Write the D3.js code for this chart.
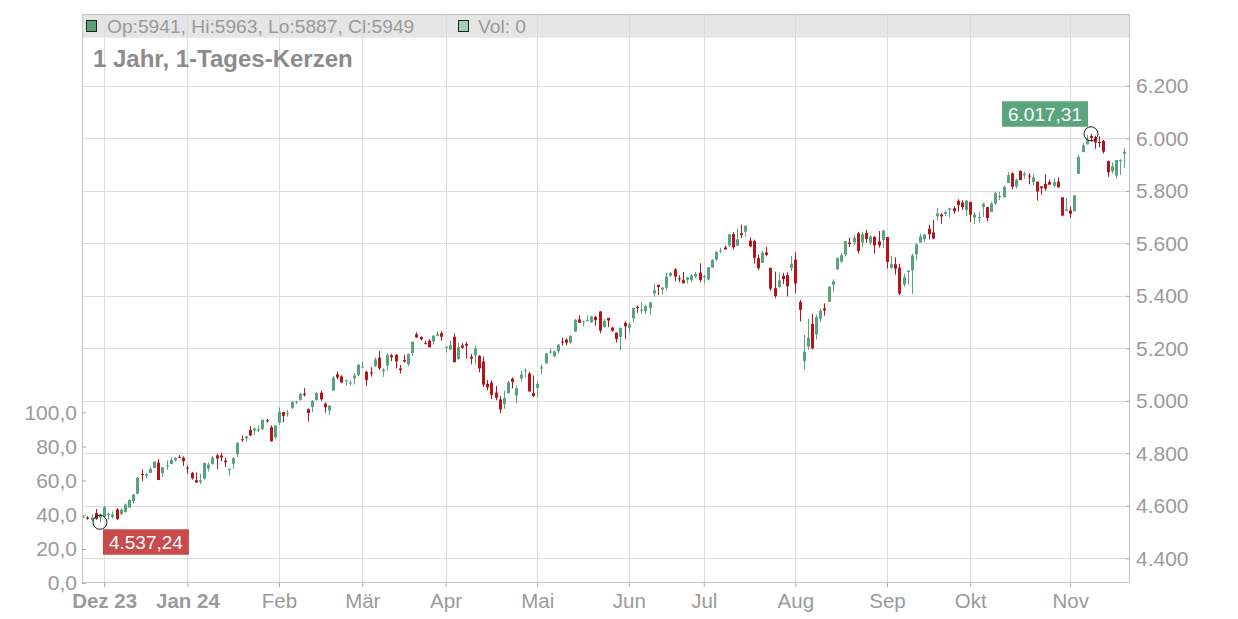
<!DOCTYPE html>
<html><head><meta charset="utf-8">
<script src="https://cdn.jsdelivr.net/npm/d3@7"></script>
<style>body{margin:0;background:#fff}svg{display:block;font-family:"Liberation Sans",Arial,sans-serif}</style>
</head><body><svg id="c" width="1238" height="619"></svg>
<script>
// ---- data (index, daily candles) ----
const dates = ("24.11.23 27.11.23 28.11.23 29.11.23 30.11.23 " +
"01.12.23 04.12.23 05.12.23 06.12.23 07.12.23 08.12.23 11.12.23 12.12.23 13.12.23 14.12.23 15.12.23 18.12.23 19.12.23 20.12.23 21.12.23 22.12.23 26.12.23 27.12.23 28.12.23 29.12.23 " +
"02.01.24 03.01.24 04.01.24 05.01.24 08.01.24 09.01.24 10.01.24 11.01.24 12.01.24 16.01.24 17.01.24 18.01.24 19.01.24 22.01.24 23.01.24 24.01.24 25.01.24 26.01.24 29.01.24 30.01.24 31.01.24 " +
"01.02.24 02.02.24 05.02.24 06.02.24 07.02.24 08.02.24 09.02.24 12.02.24 13.02.24 14.02.24 15.02.24 16.02.24 20.02.24 21.02.24 22.02.24 23.02.24 26.02.24 27.02.24 28.02.24 29.02.24 " +
"01.03.24 04.03.24 05.03.24 06.03.24 07.03.24 08.03.24 11.03.24 12.03.24 13.03.24 14.03.24 15.03.24 18.03.24 19.03.24 20.03.24 21.03.24 22.03.24 25.03.24 26.03.24 27.03.24 28.03.24 " +
"01.04.24 02.04.24 03.04.24 04.04.24 05.04.24 08.04.24 09.04.24 10.04.24 11.04.24 12.04.24 15.04.24 16.04.24 17.04.24 18.04.24 19.04.24 22.04.24 23.04.24 24.04.24 25.04.24 26.04.24 29.04.24 30.04.24 " +
"01.05.24 02.05.24 03.05.24 06.05.24 07.05.24 08.05.24 09.05.24 10.05.24 13.05.24 14.05.24 15.05.24 16.05.24 17.05.24 20.05.24 21.05.24 22.05.24 23.05.24 24.05.24 28.05.24 29.05.24 30.05.24 31.05.24 " +
"03.06.24 04.06.24 05.06.24 06.06.24 07.06.24 10.06.24 11.06.24 12.06.24 13.06.24 14.06.24 17.06.24 18.06.24 20.06.24 21.06.24 24.06.24 25.06.24 26.06.24 27.06.24 28.06.24 " +
"01.07.24 02.07.24 03.07.24 05.07.24 08.07.24 09.07.24 10.07.24 11.07.24 12.07.24 15.07.24 16.07.24 17.07.24 18.07.24 19.07.24 22.07.24 23.07.24 24.07.24 25.07.24 26.07.24 29.07.24 30.07.24 31.07.24 " +
"01.08.24 02.08.24 05.08.24 06.08.24 07.08.24 08.08.24 09.08.24 12.08.24 13.08.24 14.08.24 15.08.24 16.08.24 19.08.24 20.08.24 21.08.24 22.08.24 23.08.24 26.08.24 27.08.24 28.08.24 29.08.24 30.08.24 " +
"03.09.24 04.09.24 05.09.24 06.09.24 09.09.24 10.09.24 11.09.24 12.09.24 13.09.24 16.09.24 17.09.24 18.09.24 19.09.24 20.09.24 23.09.24 24.09.24 25.09.24 26.09.24 27.09.24 30.09.24 " +
"01.10.24 02.10.24 03.10.24 04.10.24 07.10.24 08.10.24 09.10.24 10.10.24 11.10.24 14.10.24 15.10.24 16.10.24 17.10.24 18.10.24 21.10.24 22.10.24 23.10.24 24.10.24 25.10.24 28.10.24 29.10.24 30.10.24 31.10.24 " +
"01.11.24 04.11.24 05.11.24 06.11.24 07.11.24 08.11.24 11.11.24 12.11.24 13.11.24 14.11.24 15.11.24 18.11.24 19.11.24 20.11.24 21.11.24").split(" ");

const opens = [4554.9,4554.9,4545.6,4571.8,4554.9,
4559.4,4564.4,4557.3,4586.2,4568.8,4576.2,4593.4,4618.3,4646.2,4721.0,4714.2,4725.6,4743.7,4764.7,4724.3,4753.9,4758.9,4773.5,4786.4,4782.9,
4745.2,4725.1,4697.4,4690.6,4703.7,4741.9,4759.9,4792.1,4791.2,4772.4,4739.1,4760.1,4796.3,4853.4,4856.8,4888.6,4886.7,4888.9,4893.0,4925.9,4899.2,
4861.1,4916.1,4957.2,4950.2,4973.1,4995.2,5004.2,5026.8,4967.9,4976.4,5003.1,5031.1,4989.3,4963.0,5038.8,5100.9,5093.0,5074.6,5067.2,5085.4,
5098.5,5131.0,5110.5,5108.0,5132.4,5164.5,5112.0,5134.3,5173.5,5175.1,5123.3,5154.8,5139.1,5181.7,5253.4,5242.5,5219.5,5228.9,5226.3,5248.0,
5258.0,5204.3,5194.4,5244.1,5159.0,5211.4,5217.0,5167.9,5173.0,5171.5,5149.7,5064.6,5069.0,5031.5,5005.4,4987.3,5028.9,5084.7,5019.9,5084.9,5114.1,5103.8,
5029.0,5049.3,5122.8,5142.4,5187.2,5169.0,5189.0,5225.5,5233.1,5221.1,5263.3,5310.1,5303.1,5305.4,5298.7,5319.3,5340.3,5281.5,5315.9,5278.7,5259.8,5243.2,
5297.2,5278.2,5314.5,5357.8,5343.8,5341.2,5353.0,5409.1,5441.9,5424.1,5431.1,5476.2,5500.0,5466.8,5459.6,5460.7,5460.7,5473.6,5488.5,
5471.1,5461.8,5507.4,5537.9,5572.8,5584.2,5591.3,5635.2,5590.8,5638.2,5644.1,5610.1,5608.6,5543.4,5525.5,5565.3,5505.8,5428.7,5433.7,5476.6,5478.7,5505.6,
5537.8,5376.6,5151.1,5206.4,5293.1,5252.6,5312.7,5351.9,5377.0,5442.0,5501.1,5530.5,5557.2,5602.9,5603.1,5637.8,5602.9,5639.7,5602.6,5624.5,5607.3,5612.7,
5623.9,5506.7,5520.1,5507.3,5442.1,5490.5,5496.4,5557.5,5603.3,5615.2,5655.5,5641.7,5702.6,5709.6,5711.9,5727.4,5733.7,5762.2,5755.4,5726.5,
5757.7,5698.2,5698.6,5737.8,5737.8,5719.1,5751.8,5778.4,5775.1,5829.8,5866.7,5816.6,5875.6,5859.4,5857.8,5832.7,5834.5,5816.8,5826.8,5833.9,5819.7,5835.1,5775.3,
5723.2,5725.2,5722.4,5864.9,5947.2,5976.8,6008.9,6003.6,5985.8,5989.7,5912.8,5874.2,5857.6,5914.5,5941];

const highs = [4560.0,4560.5,4568.1,4587.6,4569.9,
4599.4,4574.1,4578.6,4590.7,4590.9,4609.2,4623.7,4643.9,4709.7,4738.6,4725.5,4749.5,4768.7,4778.0,4748.7,4772.9,4784.7,4785.4,4793.3,4788.4,
4754.3,4729.3,4726.8,4721.5,4764.2,4765.5,4790.8,4798.5,4802.4,4782.3,4744.2,4785.8,4842.1,4868.4,4866.5,4903.7,4898.2,4906.7,4929.3,4931.1,4906.8,
4907.0,4975.3,4957.2,4964.9,4999.9,5000.4,5030.1,5048.4,4971.4,5002.5,5032.7,5038.7,4993.7,4983.2,5094.4,5111.1,5097.7,5080.7,5077.4,5105.0,
5140.3,5149.7,5114.5,5128.0,5165.6,5189.3,5124.7,5179.9,5179.1,5176.9,5136.9,5175.6,5180.3,5226.2,5261.1,5246.1,5229.1,5235.2,5249.3,5264.9,
5264.0,5208.3,5228.8,5256.6,5222.2,5219.6,5224.8,5178.4,5211.8,5175.0,5168.4,5079.8,5078.0,5056.7,5019.0,5038.8,5076.1,5089.5,5057.8,5114.6,5123.5,5110.8,
5096.1,5073.2,5139.1,5181.0,5200.2,5192.0,5215.3,5239.7,5237.3,5250.4,5311.8,5325.5,5305.5,5325.3,5324.3,5323.2,5341.9,5311.7,5315.9,5282.3,5260.2,5280.3,
5302.1,5298.8,5354.2,5362.4,5375.1,5365.8,5376.0,5447.3,5441.9,5432.4,5488.5,5490.4,5505.5,5478.3,5490.7,5472.9,5483.1,5490.8,5523.6,
5479.6,5509.7,5539.3,5570.3,5583.1,5590.8,5635.4,5642.5,5655.6,5670.8,5667.3,5622.5,5614.1,5557.5,5570.4,5585.3,5508.0,5491.6,5488.3,5487.7,5489.5,5551.5,
5566.2,5383.9,5250.9,5312.3,5330.6,5328.0,5351.8,5371.2,5436.5,5463.2,5546.2,5563.1,5608.3,5620.5,5632.7,5643.2,5641.8,5651.6,5631.2,5627.0,5647.0,5651.4,
5623.9,5553.0,5546.3,5522.5,5484.2,5497.9,5560.4,5600.7,5636.3,5636.1,5670.8,5689.8,5733.6,5715.1,5725.4,5735.3,5741.0,5767.4,5763.8,5765.1,
5757.7,5719.1,5718.8,5753.8,5739.2,5757.6,5796.8,5795.0,5822.1,5871.4,5870.4,5846.5,5878.5,5872.2,5866.9,5863.0,5834.9,5817.0,5862.8,5842.9,5847.2,5850.9,5775.3,
5772.7,5741.4,5783.4,5936.1,5983.8,6012.5,6017.31,6009.9,6008.2,5993.9,5915.3,5908.1,5917.7,5920.7,5963];

const lows = [4552.8,4547.0,4540.5,4547.2,4537.24,
4554.4,4546.7,4551.7,4546.5,4565.2,4574.1,4593.4,4608.1,4643.2,4694.6,4704.7,4725.6,4743.7,4697.8,4708.4,4736.8,4758.9,4768.9,4781.0,4752.0,
4722.7,4699.7,4687.5,4682.1,4699.7,4730.4,4756.2,4739.6,4769.0,4747.1,4714.8,4740.6,4785.9,4844.1,4844.4,4865.9,4869.3,4881.5,4887.4,4916.5,4845.2,
4853.5,4908.0,4918.1,4939.4,4969.1,4987.1,5000.3,5016.8,4920.3,4956.5,4999.4,4999.5,4955.0,4946.0,5038.8,5081.5,5068.9,5057.3,5058.4,5061.9,
5094.2,5127.2,5056.8,5092.2,5128.2,5117.5,5091.1,5114.5,5151.9,5123.3,5104.4,5145.5,5131.6,5171.6,5240.0,5229.9,5216.1,5203.4,5213.9,5245.8,
5229.2,5184.1,5194.4,5146.1,5157.2,5197.4,5160.8,5138.7,5138.8,5107.9,5052.5,5039.8,5007.3,5001.9,4953.6,4969.4,5028.0,5047.0,4990.6,5073.1,5088.7,5035.3,
5013.5,5011.1,5101.2,5142.4,5179.0,5165.9,5180.4,5209.7,5211.2,5218.0,5263.3,5296.2,5283.6,5302.4,5297.9,5286.0,5256.9,5278.4,5280.9,5262.7,5222.1,5191.7,
5234.3,5257.6,5297.6,5335.4,5331.3,5331.5,5327.3,5396.4,5402.5,5403.8,5420.4,5471.3,5455.6,5452.0,5447.6,5446.6,5451.9,5467.5,5451.1,
5446.5,5458.4,5507.4,5531.6,5562.5,5574.6,5586.4,5576.5,5590.4,5619.9,5625.2,5584.8,5522.8,5497.0,5525.5,5550.9,5420.0,5391.0,5430.7,5444.4,5397.1,5493.8,
5410.4,5302.0,5119.26,5193.6,5195.5,5233.9,5300.4,5324.4,5377.0,5415.2,5497.8,5525.6,5550.7,5585.5,5595.0,5561.0,5585.2,5602.3,5593.5,5561.0,5583.7,5581.8,
5504.3,5503.7,5480.2,5402.6,5434.5,5441.7,5407.0,5535.5,5601.7,5604.5,5614.1,5615.1,5686.4,5674.5,5704.2,5699.0,5712.1,5721.0,5727.3,5703.5,
5681.3,5674.0,5677.8,5699.8,5683.8,5718.6,5745.0,5764.8,5775.1,5829.8,5804.5,5808.3,5840.3,5846.1,5824.1,5821.2,5762.4,5784.9,5800.0,5823.1,5813.5,5811.3,5702.9,
5723.2,5696.5,5722.1,5864.9,5947.2,5976.8,5986.7,5960.1,5965.9,5942.3,5853.0,5866.0,5846.5,5860.6,5887];

const closes = [4559.3,4550.4,4554.9,4550.6,4567.8,
4594.6,4569.8,4567.2,4549.3,4585.6,4604.4,4622.4,4643.7,4707.1,4719.6,4719.2,4740.6,4768.4,4698.4,4746.8,4754.6,4774.8,4781.6,4783.4,4769.8,
4742.8,4704.8,4688.7,4697.2,4763.5,4756.5,4783.5,4780.2,4783.8,4766.0,4739.2,4780.9,4839.8,4850.4,4864.6,4868.6,4894.2,4891.0,4927.9,4925.0,4845.7,
4906.2,4958.6,4942.8,4954.2,4995.1,4997.9,5026.6,5021.8,4953.2,5000.6,5029.7,5005.6,4975.5,4981.8,5087.0,5088.8,5069.5,5078.2,5069.8,5096.3,
5137.1,5131.0,5078.7,5104.8,5157.4,5123.7,5117.9,5175.3,5165.3,5150.5,5117.1,5149.4,5178.5,5224.6,5241.5,5234.2,5218.2,5203.6,5248.5,5254.4,
5243.8,5205.8,5211.5,5147.2,5204.3,5202.4,5209.9,5160.6,5199.1,5123.4,5061.8,5051.4,5022.2,5011.1,4967.2,5010.6,5070.6,5071.6,5048.4,5100.0,5116.2,5035.7,
5018.4,5064.2,5127.8,5180.7,5187.7,5187.7,5214.1,5222.7,5221.4,5246.7,5308.2,5297.1,5303.3,5308.1,5321.4,5307.0,5267.8,5304.7,5306.0,5267.0,5235.5,5277.5,
5283.4,5291.3,5354.0,5353.0,5347.0,5360.8,5375.3,5421.0,5433.7,5431.6,5473.2,5487.0,5473.2,5464.6,5447.9,5469.3,5477.9,5482.9,5460.5,
5475.1,5509.0,5537.0,5567.2,5572.9,5577.0,5633.9,5584.5,5615.4,5631.2,5667.2,5588.3,5544.6,5505.0,5564.4,5555.7,5427.1,5399.2,5459.1,5463.5,5436.4,5522.3,
5446.7,5346.6,5186.3,5240.0,5199.5,5319.3,5344.2,5344.4,5434.4,5455.2,5543.2,5554.3,5608.3,5597.1,5620.9,5570.6,5634.6,5616.8,5625.8,5592.2,5592.0,5648.4,
5528.9,5520.1,5503.4,5408.4,5471.1,5495.5,5554.1,5595.8,5626.0,5633.1,5634.6,5618.3,5713.6,5702.6,5718.6,5732.9,5722.3,5745.4,5738.2,5762.5,
5708.8,5709.5,5699.9,5751.1,5695.9,5751.1,5792.0,5780.1,5815.0,5859.9,5815.3,5842.5,5841.5,5864.7,5854.0,5851.2,5797.4,5809.9,5808.1,5823.5,5832.9,5813.7,5705.5,
5728.8,5712.7,5782.8,5929.0,5973.1,5995.5,6001.4,5984.0,5985.4,5949.2,5870.6,5893.6,5917.0,5917.1,5949];

const priceTicks  = [4400, 4600, 4800, 5000, 5200, 5400, 5600, 5800, 6000, 6200];
const volumeTicks = [0, 20, 40, 60, 80, 100];
const monthLabels = ["Dez 23", "Jan 24", "Feb", "Mär", "Apr", "Mai", "Jun", "Jul", "Aug", "Sep", "Okt", "Nov"];
const monthBold   = [true, true, false, false, false, false, false, false, false, false, false, false];
const monthAt     = [5, 25, 47, 67, 87, 109, 131, 149, 171, 193, 213, 237]; // candle index of each month line
const titleText  = "1 Jahr, 1-Tages-Kerzen";
const legendOHLC = "Op:5941, Hi:5963, Lo:5887, Cl:5949";
const legendVol  = "Vol: 0";

// ---- drawing ----
const L = 82, R = 1130, T = 14.5, B = 583, BAND = 23.2;
const GREEN = "#58a47e", RED = "#b4141a", GRID = "#dcdcdc", TXT = "#9a9a9a";
const de = d3.formatLocale({decimal: ",", thousands: ".", grouping: [3], currency: ["", "€"]});
const fPrice = de.format(",.0f"), fVol = de.format(",.1f"), fLab = de.format(",.2f");

const svg = d3.select("#c");
svg.append("rect").attr("width", 1238).attr("height", 619).attr("fill", "#fff");

const x  = d3.scaleLinear().domain([0, dates.length - 1]).range([83.3, 1124.3]);
const y  = d3.scaleLinear().domain([4400, 6200]).range([558.3, 85.8]);
const yv = d3.scaleLinear().domain([0, 100]).range([583, 412.3]);
const crisp = v => Math.round(v) + 0.5;

// legend band
svg.append("rect").attr("x", L).attr("y", T).attr("width", R - L).attr("height", BAND).attr("fill", "#e5e5e5");

// grid
const g = svg.append("g").attr("stroke", GRID).attr("stroke-width", 1);
g.selectAll("line.h").data(priceTicks).join("line").attr("class", "h")
  .attr("x1", L).attr("x2", R).attr("y1", d => crisp(y(d))).attr("y2", d => crisp(y(d)));
g.selectAll("line.v").data(monthAt).join("line").attr("class", "v")
  .attr("x1", d => crisp(x(d))).attr("x2", d => crisp(x(d))).attr("y1", T).attr("y2", B);

// candles
const candles = dates.map((d, i) => ({d, i, o: opens[i], h: highs[i], l: lows[i], c: closes[i]}));
const cg = svg.append("g");
const col = d => d.c >= d.o ? GREEN : RED;
cg.selectAll("line").data(candles).join("line")
  .attr("x1", d => crisp(x(d.i))).attr("x2", d => crisp(x(d.i)))
  .attr("y1", d => y(d.h)).attr("y2", d => y(d.l))
  .attr("stroke", col).attr("stroke-width", 1);
cg.selectAll("rect").data(candles).join("rect")
  .attr("x", d => Math.round(x(d.i)) - 1).attr("width", 3)
  .attr("y", d => y(Math.max(d.o, d.c)))
  .attr("height", d => Math.max(1, Math.abs(y(d.o) - y(d.c))))
  .attr("fill", col);

// frame
svg.append("rect").attr("x", L + 0.5).attr("y", T).attr("width", R - L - 1).attr("height", B - T - 0.5)
  .attr("fill", "none").attr("stroke", "#c4c4c4");

// axes
function style(sel, size) {
  sel.select(".domain").remove();
  sel.selectAll(".tick line").attr("stroke", "#a8a8a8");
  sel.selectAll(".tick text").attr("fill", TXT).style("font-size", size + "px")
     .style("font-family", '"Liberation Sans",Arial,sans-serif');
}
svg.append("g").attr("transform", `translate(${R},0)`)
  .call(d3.axisRight(y).tickValues(priceTicks).tickFormat(fPrice).tickSizeInner(-4).tickSizeOuter(0).tickPadding(6))
  .call(s => style(s, 21));
svg.append("g").attr("transform", `translate(${L},0)`)
  .call(d3.axisLeft(yv).tickValues(volumeTicks).tickFormat(fVol).tickSizeInner(-4).tickSizeOuter(0).tickPadding(5))
  .call(s => style(s, 21));
const xa = svg.append("g").attr("transform", `translate(0,${B})`)
  .call(d3.axisBottom(x).tickValues(monthAt).tickFormat((d, i) => monthLabels[i]).tickSizeInner(4).tickSizeOuter(0).tickPadding(6.5))
  .call(s => style(s, 20.5));
xa.selectAll(".tick text").style("font-weight", (d, i) => monthBold[i] ? "bold" : "normal");

// title
svg.append("text").attr("x", 93).attr("y", 67).text(titleText)
  .attr("fill", "#8c8c8c").style("font-size", "24px").style("font-weight", "bold");

// legend
svg.append("rect").attr("x", 86.5).attr("y", 20.5).attr("width", 10).attr("height", 11)
  .attr("fill", "#5a9e7a").attr("stroke", "#222");
svg.append("text").attr("x", 107).attr("y", 32.5).text(legendOHLC).attr("fill", TXT).style("font-size", "19.2px");
svg.append("rect").attr("x", 458.5).attr("y", 20.5).attr("width", 10).attr("height", 11)
  .attr("fill", "#a6cfba").attr("stroke", "#222");
svg.append("text").attr("x", 478).attr("y", 32.5).text(legendVol).attr("fill", TXT).style("font-size", "19.2px");

// extreme markers & labels
const iHi = d3.maxIndex(highs), iLo = d3.minIndex(lows);
function marker(i, v, fill, above) {
  const cx = x(i), cy = y(v);
  svg.append("circle").attr("cx", cx).attr("cy", cy).attr("r", 7)
    .attr("fill", "none").attr("stroke", "#1a1a1a").attr("stroke-width", 1);
  const grp = svg.append("g");
  const box = grp.append("rect").attr("fill", fill);
  const t = grp.append("text").text(fLab(v)).attr("fill", "#fff").style("font-size", "19px").attr("text-anchor", "middle");
  const w = t.node().getComputedTextLength() + 12, h = 25.5;
  const bx = above ? cx - 3 - w : cx + 3;
  const by = above ? cy - 7 - h : cy + 7;
  box.attr("x", bx).attr("y", by).attr("width", w).attr("height", h);
  t.attr("x", bx + w / 2).attr("y", by + h / 2 + 7);
}
marker(iHi, highs[iHi], "#5aa57e", true);
marker(iLo, lows[iLo], "#c84a4b", false);
</script></body></html>
